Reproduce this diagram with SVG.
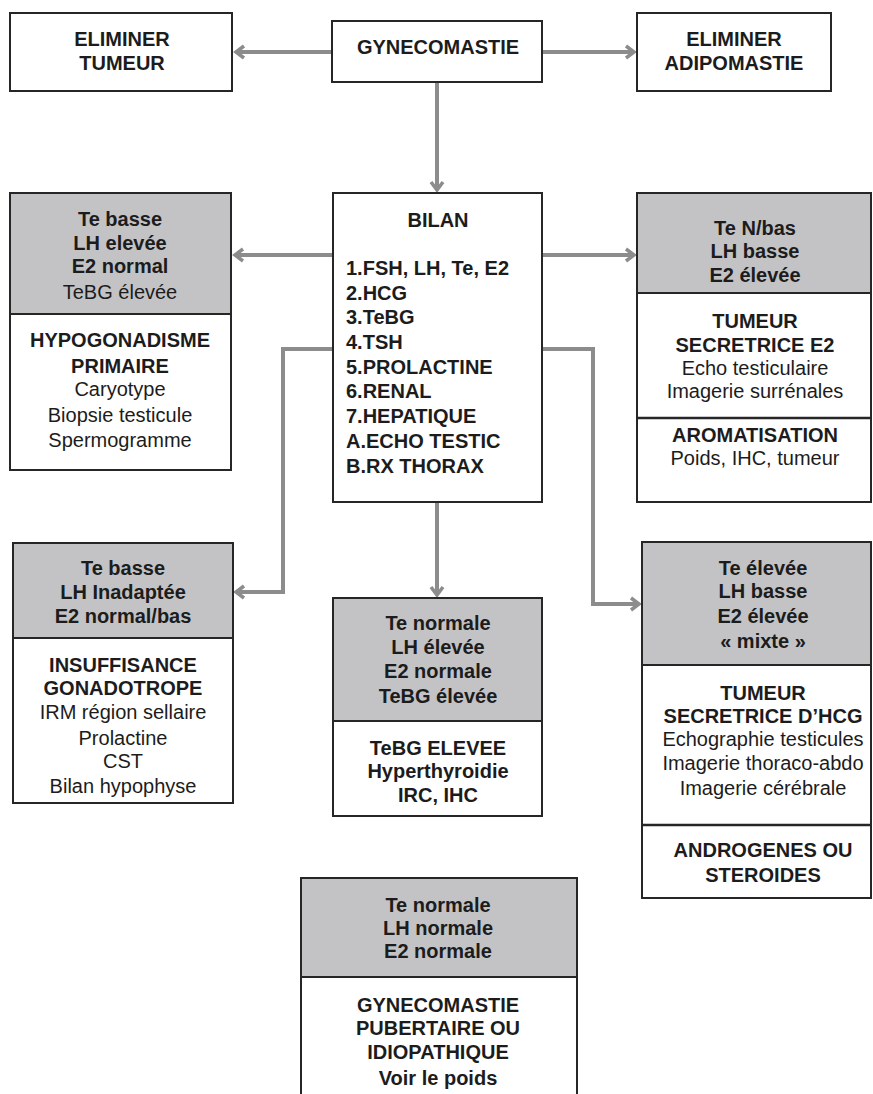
<svg xmlns="http://www.w3.org/2000/svg" width="873" height="1094" viewBox="0 0 873 1094">
<style>
.box{fill:#ffffff;stroke:#262626;stroke-width:2}
.gray{fill:#c3c3c6;stroke:#262626;stroke-width:2}
.div{stroke:#262626;stroke-width:2.5}
text{font-family:"Liberation Sans",Arial,sans-serif;font-size:20px;fill:#1c1c1c;text-anchor:middle}
.b{font-weight:bold}
.l{text-anchor:start}
.con{fill:none;stroke:#8c8c8c;stroke-width:4}
</style>
<defs>
<marker id="arr" markerUnits="userSpaceOnUse" markerWidth="16" markerHeight="16" refX="11" refY="8" orient="auto">
<path d="M3,2 L11,8 L3,14" fill="none" stroke="#8c8c8c" stroke-width="3.5"/>
</marker>
</defs>
<rect width="873" height="1094" fill="#ffffff"/>

<g id="connectors">
<line class="con" x1="332" y1="52" x2="236" y2="52" marker-end="url(#arr)"/>
<line class="con" x1="542" y1="52" x2="634" y2="52" marker-end="url(#arr)"/>
<line class="con" x1="437" y1="82" x2="437" y2="190" marker-end="url(#arr)"/>
<line class="con" x1="333" y1="255" x2="235" y2="255" marker-end="url(#arr)"/>
<line class="con" x1="542" y1="255" x2="634" y2="255" marker-end="url(#arr)"/>
<path class="con" d="M333,349 H283 V592 H236" marker-end="url(#arr)"/>
<line class="con" x1="437" y1="502" x2="437" y2="595" marker-end="url(#arr)"/>
<path class="con" d="M542,349 H593 V604 H639" marker-end="url(#arr)"/>
</g>

<g id="eliminer-tumeur">
<rect class="box" x="10" y="13" width="222" height="78"/>
<text class="b" x="122" y="46">ELIMINER</text>
<text class="b" x="122" y="70">TUMEUR</text>
</g>

<g id="gynecomastie">
<rect class="box" x="332" y="21" width="210" height="61"/>
<text class="b" x="438" y="54">GYNECOMASTIE</text>
</g>

<g id="eliminer-adipomastie">
<rect class="box" x="637" y="13" width="194" height="78"/>
<text class="b" x="734" y="46">ELIMINER</text>
<text class="b" x="734" y="70">ADIPOMASTIE</text>
</g>

<g id="bilan">
<rect class="box" x="333" y="193" width="209" height="309"/>
<text class="b" x="438" y="227">BILAN</text>
<text class="b l" x="346" y="275">1.FSH, LH, Te, E2</text>
<text class="b l" x="346" y="300">2.HCG</text>
<text class="b l" x="346" y="324">3.TeBG</text>
<text class="b l" x="346" y="349">4.TSH</text>
<text class="b l" x="346" y="374">5.PROLACTINE</text>
<text class="b l" x="346" y="398">6.RENAL</text>
<text class="b l" x="346" y="423">7.HEPATIQUE</text>
<text class="b l" x="346" y="448">A.ECHO TESTIC</text>
<text class="b l" x="346" y="473">B.RX THORAX</text>
</g>

<g id="hypogonadisme-primaire">
<rect class="box" x="10" y="193" width="221" height="277"/>
<rect class="gray" x="10" y="193" width="221" height="121"/>
<text class="b" x="120" y="226">Te basse</text>
<text class="b" x="120" y="250">LH elevée</text>
<text class="b" x="120" y="273">E2 normal</text>
<text x="120" y="299">TeBG élevée</text>
<text class="b" x="120" y="347">HYPOGONADISME</text>
<text class="b" x="120" y="373">PRIMAIRE</text>
<text x="120" y="396">Caryotype</text>
<text x="120" y="422">Biopsie testicule</text>
<text x="120" y="447">Spermogramme</text>
</g>

<g id="tumeur-e2">
<rect class="box" x="637" y="193" width="234" height="309"/>
<rect class="gray" x="637" y="193" width="234" height="100"/>
<line class="div" x1="637" y1="418" x2="871" y2="418"/>
<text class="b" x="755" y="235">Te N/bas</text>
<text class="b" x="755" y="258">LH basse</text>
<text class="b" x="755" y="282">E2 élevée</text>
<text class="b" x="755" y="328">TUMEUR</text>
<text class="b" x="755" y="352">SECRETRICE E2</text>
<text x="755" y="375">Echo testiculaire</text>
<text x="755" y="398">Imagerie surrénales</text>
<text class="b" x="755" y="442">AROMATISATION</text>
<text x="755" y="465">Poids, IHC, tumeur</text>
</g>

<g id="insuffisance-gonadotrope">
<rect class="box" x="13" y="543" width="220" height="260"/>
<rect class="gray" x="13" y="543" width="220" height="95"/>
<text class="b" x="123" y="575">Te basse</text>
<text class="b" x="123" y="599">LH Inadaptée</text>
<text class="b" x="123" y="623">E2 normal/bas</text>
<text class="b" x="123" y="672">INSUFFISANCE</text>
<text class="b" x="123" y="695">GONADOTROPE</text>
<text x="123" y="719">IRM région sellaire</text>
<text x="123" y="745">Prolactine</text>
<text x="123" y="768">CST</text>
<text x="123" y="793">Bilan hypophyse</text>
</g>

<g id="tebg-elevee">
<rect class="box" x="333" y="598" width="209" height="218"/>
<rect class="gray" x="333" y="598" width="209" height="123"/>
<text class="b" x="438" y="630">Te normale</text>
<text class="b" x="438" y="654">LH élevée</text>
<text class="b" x="438" y="678">E2 normale</text>
<text class="b" x="438" y="703">TeBG élevée</text>
<text class="b" x="438" y="755">TeBG ELEVEE</text>
<text class="b" x="438" y="778">Hyperthyroidie</text>
<text class="b" x="438" y="802">IRC, IHC</text>
</g>

<g id="tumeur-hcg">
<rect class="box" x="642" y="542" width="229" height="356"/>
<rect class="gray" x="642" y="542" width="229" height="123"/>
<line class="div" x1="642" y1="825" x2="871" y2="825"/>
<text class="b" x="763" y="575">Te élevée</text>
<text class="b" x="763" y="598">LH basse</text>
<text class="b" x="763" y="623">E2 élevée</text>
<text class="b" x="763" y="648">« mixte »</text>
<text class="b" x="763" y="700">TUMEUR</text>
<text class="b" x="763" y="723">SECRETRICE D’HCG</text>
<text x="763" y="746">Echographie testicules</text>
<text x="763" y="770">Imagerie thoraco-abdo</text>
<text x="763" y="795">Imagerie cérébrale</text>
<text class="b" x="763" y="857">ANDROGENES OU</text>
<text class="b" x="763" y="882">STEROIDES</text>
</g>

<g id="gynecomastie-pubertaire">
<rect class="box" x="301" y="878" width="276" height="230"/>
<rect class="gray" x="301" y="878" width="276" height="99"/>
<text class="b" x="438" y="912">Te normale</text>
<text class="b" x="438" y="935">LH normale</text>
<text class="b" x="438" y="958">E2 normale</text>
<text class="b" x="438" y="1012">GYNECOMASTIE</text>
<text class="b" x="438" y="1035">PUBERTAIRE OU</text>
<text class="b" x="438" y="1059">IDIOPATHIQUE</text>
<text class="b" x="438" y="1085">Voir le poids</text>
</g>
</svg>
